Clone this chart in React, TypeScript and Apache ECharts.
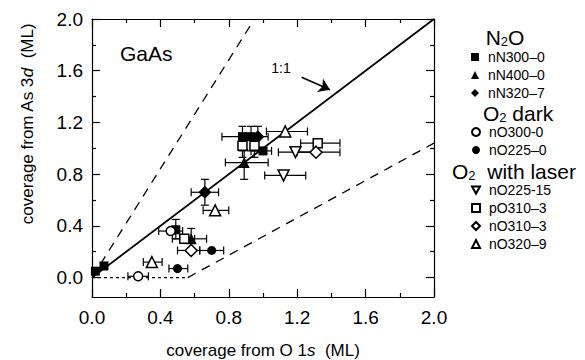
import React, { useEffect, useRef } from 'react';
import * as echarts from 'echarts';

const xMajor = [0, 0.4, 0.8, 1.2, 1.6, 2.0];
const xMinor = [0.2, 0.6, 1.0, 1.4, 1.8];
const yMajor = [0, 0.4, 0.8, 1.2, 1.6, 2.0];
const yMinor = [0.2, 0.6, 1.0, 1.4, 1.8];

// rows: [x, y, xLow, xHigh, yLow, yHigh]
const nN300_0 = [
  [0.02, 0.05, null, null, null, null],
  [0.07, 0.09, null, null, null, null],
  [0.49, 0.37, null, null, 0.3, 0.45],
  [0.88, 1.09, 0.76, 1.03, 0.98, 1.17],
  [0.93, 1.09, null, null, 0.98, 1.17],
  [1.0, 0.98, 0.93, 1.05, null, null],
];
const nN400_0 = [
  [0.58, 0.3, 0.52, 0.67, 0.22, 0.38],
  [0.89, 0.89, 0.78, 1.03, 0.76, 0.99],
];
const nN320_7 = [
  [0.66, 0.66, 0.58, 0.74, 0.56, 0.76],
  [0.97, 1.09, null, null, 0.98, 1.17],
];
const nO300_0 = [
  [0.27, 0.01, 0.21, 0.33, null, null],
  [0.46, 0.36, 0.39, 0.53, null, null],
];
const nO225_0 = [
  [0.5, 0.07, 0.45, 0.56, null, null],
  [0.7, 0.21, 0.63, 0.77, null, null],
];
const nO225_15 = [
  [1.19, 0.97, 1.09, 1.3, null, null],
  [1.12, 0.79, 1.01, 1.25, null, null],
];
const pO310_3 = [
  [0.54, 0.3, 0.47, 0.6, null, null],
  [0.88, 1.02, null, null, 0.93, 1.09],
  [0.95, 1.02, null, null, 0.93, 1.09],
  [1.32, 1.04, 1.22, 1.45, null, null],
];
const nO310_3 = [
  [0.58, 0.21, 0.5, 0.63, null, null],
  [1.31, 0.97, 1.2, 1.45, null, null],
];
const nO320_9 = [
  [0.35, 0.12, 0.3, 0.41, null, null],
  [0.72, 0.52, 0.65, 0.8, null, null],
  [1.13, 1.13, 1.02, 1.26, null, null],
];

const lineOneToOne = [[0, 0], [2, 2]];
const lineUpperDashed = [[0, 0], [0.95, 2.0]];
const lineLowerDashed = [[0.56, 0], [2.0, 1.04]];
const lineDotted = [[0, 0], [0.56, 0]];
const arrowFrom = [1.226, 1.55];
const arrowTo = [1.392, 1.453];

const FONT = '"Liberation Sans", Arial, Helvetica, sans-serif';
const INK = '#000';

const INV_TRI = 'path://M0,0 L10,0 L5,9 Z';

const groups = [
  { names: ['nN300–0', 'nN400–0', 'nN320–7'], top: 50 },
  { names: ['nO300-0', 'nO225–0'], top: 125 },
  { names: ['nO225-15', 'pO310–3', 'nO310–3', 'nO320–9'], top: 183 },
];

const defs = [
  { name: 'nN300–0', rows: nN300_0, symbol: 'rect', filled: true, size: 9, rotate: 0 },
  { name: 'nN400–0', rows: nN400_0, symbol: 'triangle', filled: true, size: 11, rotate: 0 },
  { name: 'nN320–7', rows: nN320_7, symbol: 'diamond', filled: true, size: 13, rotate: 0 },
  { name: 'nO300-0', rows: nO300_0, symbol: 'circle', filled: false, size: 9, rotate: 0 },
  { name: 'nO225–0', rows: nO225_0, symbol: 'circle', filled: true, size: 9, rotate: 0 },
  { name: 'nO225-15', rows: nO225_15, symbol: 'triangle', filled: false, size: 11, rotate: 180 },
  { name: 'pO310–3', rows: pO310_3, symbol: 'rect', filled: false, size: 9, rotate: 0 },
  { name: 'nO310–3', rows: nO310_3, symbol: 'diamond', filled: false, size: 12, rotate: 0 },
  { name: 'nO320–9', rows: nO320_9, symbol: 'triangle', filled: false, size: 11, rotate: 0 },
];

function makeX(position: string, values: number[], len: number, main: boolean) {
  return {
    type: 'value', min: 0, max: 2, position,
    axisLine: { show: main, onZero: false, lineStyle: { color: INK, width: 1.2 } },
    axisTick: { show: true, inside: true, length: len, customValues: values, lineStyle: { color: INK, width: 1.2 } },
    axisLabel: main && position === 'bottom'
      ? { show: true, customValues: xMajor, formatter: (v: number) => v.toFixed(1), fontSize: 19, fontFamily: FONT, color: INK, margin: 11 }
      : { show: false },
    splitLine: { show: false },
  };
}
function makeY(position: string, values: number[], len: number, main: boolean) {
  return {
    type: 'value', min: -0.15, max: 2, position,
    axisLine: { show: main, onZero: false, lineStyle: { color: INK, width: 1.2 } },
    axisTick: { show: true, inside: true, length: len, customValues: values, lineStyle: { color: INK, width: 1.2 } },
    axisLabel: main && position === 'left'
      ? { show: true, customValues: yMajor, formatter: (v: number) => v.toFixed(1), fontSize: 19, fontFamily: FONT, color: INK, margin: 9 }
      : { show: false },
    splitLine: { show: false },
  };
}

export default function App() {
  const ref = useRef<HTMLDivElement>(null);
  useEffect(() => {
    if (!ref.current) return;
    const chart = echarts.init(ref.current, null, { renderer: 'svg' });
    const errRows: any[] = [];
    defs.forEach((d) => d.rows.forEach((r) => errRows.push(r)));

    const xAxes: any[] = [
      makeX('bottom', xMajor, 8, true),
      makeX('bottom', xMinor, 4, false),
      makeX('top', xMajor, 8, true),
      makeX('top', xMinor, 4, false),
    ];
    xAxes[0].name = 'coverage from O 1{i|s}  (ML)';
    xAxes[0].nameLocation = 'middle';
    xAxes[0].nameGap = 45;
    xAxes[0].nameTextStyle = {
      fontSize: 17, fontFamily: FONT, color: INK,
      rich: { i: { fontSize: 17, fontFamily: FONT, fontStyle: 'italic', color: INK } },
    };
    const yAxes: any[] = [
      makeY('left', yMajor, 8, true),
      makeY('left', yMinor, 4, false),
      makeY('right', yMajor, 8, true),
      makeY('right', yMinor, 4, false),
    ];

    const lineSeries = (data: number[][], type: any, width: number, extra: any = {}) => ({
      type: 'line', data, symbol: 'none', silent: true, z: 1,
      lineStyle: { color: INK, width, type }, ...extra,
    });

    const series: any[] = [
      lineSeries(lineOneToOne, 'solid', 1.8, {
        markLine: {
          silent: true, symbol: ['none', 'arrow'], symbolSize: 11,
          itemStyle: { color: INK },
          lineStyle: { color: INK, width: 1.6, type: 'solid' }, label: { show: false },
          data: [[{ coord: arrowFrom }, { coord: arrowTo }]],
        },
      }),
      lineSeries(lineUpperDashed, [9, 7], 1.3),
      lineSeries(lineLowerDashed, [9, 7], 1.3),
      lineSeries(lineDotted, [3, 3], 1.3),
      {
        type: 'custom', name: 'err', silent: true, z: 2,
        data: errRows.map((r) => [r[0], r[1]]),
        renderItem: (params: any, api: any) => {
          const r = errRows[params.dataIndex];
          const st = { stroke: INK, lineWidth: 1.2 };
          const cap = 4;
          const ch: any[] = [];
          const ln = (x1: number, y1: number, x2: number, y2: number) =>
            ch.push({ type: 'line', shape: { x1, y1, x2, y2 }, style: st });
          if (r[2] != null) {
            const a = api.coord([r[2], r[1]]);
            const b = api.coord([r[3], r[1]]);
            ln(a[0], a[1], b[0], b[1]);
            ln(a[0], a[1] - cap, a[0], a[1] + cap);
            ln(b[0], b[1] - cap, b[0], b[1] + cap);
          }
          if (r[4] != null) {
            const a = api.coord([r[0], r[4]]);
            const b = api.coord([r[0], r[5]]);
            ln(a[0], a[1], b[0], b[1]);
            ln(a[0] - cap, a[1], a[0] + cap, a[1]);
            ln(b[0] - cap, b[1], b[0] + cap, b[1]);
          }
          return { type: 'group', children: ch };
        },
      },
      ...defs.map((d) => ({
        type: 'scatter', name: d.name, z: 3,
        data: d.rows.map((r) => [r[0], r[1]]),
        symbol: d.symbol, symbolSize: d.size, symbolRotate: d.rotate,
        itemStyle: d.filled
          ? { color: INK, opacity: 1 }
          : { color: '#fff', borderColor: INK, borderWidth: 1.5, opacity: 1 },
      })),
    ];

    const legends = groups.map((g) => ({
      orient: 'vertical', left: 471, top: g.top, padding: 0,
      data: g.names.map((n) => (n === 'nO225-15' ? { name: n, icon: INV_TRI } : { name: n })),
      itemWidth: 8, itemHeight: 8, itemGap: 4, selectedMode: false,
      formatter: (n: string) => ' ' + n,
      textStyle: { fontSize: 14, fontFamily: FONT, color: INK },
    }));

    const headRich = {
      a: { fontSize: 21, fontFamily: FONT, fill: INK, lineHeight: 22 },
      s: { fontSize: 13, fontFamily: FONT, fill: INK, lineHeight: 13, verticalAlign: 'bottom' },
    };

    chart.setOption({
      animation: false,
      backgroundColor: '#fff',
      textStyle: { fontFamily: FONT },
      grid: { left: 92, right: 151, top: 19, bottom: 63, containLabel: false, outerBoundsMode: 'none' },
      xAxis: xAxes,
      yAxis: yAxes,
      legend: legends,
      series,
      graphic: [
        { type: 'text', x: 120, y: 53, style: { text: 'GaAs', fontSize: 21, fontFamily: FONT, fill: INK, verticalAlign: 'middle' } },
        { type: 'text', x: 281, y: 68, style: { text: '1:1', fontSize: 14, fontFamily: FONT, fill: INK, align: 'center', verticalAlign: 'middle' } },
        {
          type: 'text', x: 27, y: 124, rotation: Math.PI / 2,
          style: {
            text: '{a|coverage from As 3}{i|d}{a|  (ML)}', align: 'center', verticalAlign: 'middle',
            rich: {
              a: { fontSize: 17, fontFamily: FONT, fill: INK },
              i: { fontSize: 17, fontFamily: FONT, fill: INK, fontStyle: 'italic' },
            },
          },
        },
        { type: 'text', x: 505, y: 37, style: { text: '{a|N}{s|2}{a|O}', align: 'center', verticalAlign: 'middle', rich: headRich } },
        { type: 'text', x: 518, y: 113, style: { text: '{a|O}{s|2}{a| dark}', align: 'center', verticalAlign: 'middle', rich: headRich } },
        { type: 'text', x: 452, y: 171, style: { text: '{a|O}{s|2}{a|  with laser}', align: 'left', verticalAlign: 'middle', rich: headRich } },
      ],
    });
    return () => chart.dispose();
  }, []);
  return <div ref={ref} style={{ position: 'fixed', left: 0, top: 0, width: 585, height: 360, background: '#fff' }} />;
}
